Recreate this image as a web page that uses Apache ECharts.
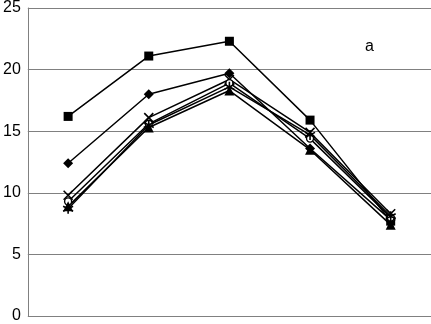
<!DOCTYPE html>
<html>
<head>
<meta charset="utf-8">
<script src="https://cdn.jsdelivr.net/npm/echarts@6/dist/echarts.min.js"></script>
<style>
  html, body { margin: 0; padding: 0; background: #fff; }
  #chart { width: 431px; height: 324px; }
</style>
</head>
<body>
<div id="chart"></div>
<script>
// categories (no labels shown on x axis)
var categories = ['1', '2', '3', '4', '5'];
var yTicks = [0, 5, 10, 15, 20, 25];

// series values
var squareVals   = [16.2, 21.1, 22.3, 15.9, 7.7];
var diamondVals  = [12.4, 18.0, 19.7, 13.6, 7.8];
var crossVals    = [9.8, 16.1, 19.2, 14.9, 8.3];
var circleVals   = [9.3, 15.6, 18.9, 14.4, 8.0];
var starVals     = [8.7, 15.5, 18.6, 14.7, 8.1];
var triangleVals = [8.9, 15.3, 18.3, 13.5, 7.4];

var crossPath = 'path://M0,0L10,10M10,0L0,10';
var starPath = 'path://M5,0L5,10M0,2.5L10,7.5M0,7.5L10,2.5';

function makeSeries(name, data, symbol, size, hollow) {
  return {
    name: name,
    type: 'line',
    data: data,
    symbol: symbol,
    symbolSize: size,
    showSymbol: true,
    animation: false,
    lineStyle: { color: '#000', width: 1.5 },
    itemStyle: {
      color: hollow ? '#fff' : '#000',
      borderColor: '#000',
      borderWidth: hollow ? 1.4 : (symbol.indexOf('path') === 0 ? 1.6 : 0)
    },
    z: 3
  }
}

var chart = echarts.init(document.getElementById('chart'));
chart.setOption({
  animation: false,
  grid: { left: 25, right: 0, top: 8, bottom: 6, containLabel: false },
  xAxis: {
    type: 'category',
    data: categories,
    boundaryGap: true,
    axisLine: { show: false },
    axisTick: { show: false },
    axisLabel: { show: false },
    splitLine: { show: false }
  },
  yAxis: {
    type: 'value',
    min: yTicks[0],
    max: yTicks[yTicks.length - 1],
    interval: 5,
    axisLine: { show: true, lineStyle: { color: '#808080', width: 1 } },
    axisTick: { show: false },
    axisLabel: {
      color: '#000',
      fontSize: 16,
      fontFamily: 'Liberation Sans, Arial, sans-serif',
      margin: 7
    },
    splitLine: { show: true, lineStyle: { color: '#808080', width: 1 } }
  },
  graphic: [{
    type: 'text',
    left: 365,
    top: 39,
    style: { text: 'a', fontSize: 16, fontFamily: 'Liberation Sans, Arial, sans-serif', fill: '#000' }
  }],
  series: [
    makeSeries('square', squareVals, 'rect', 9, false),
    makeSeries('diamond', diamondVals, 'diamond', 10, false),
    makeSeries('cross', crossVals, crossPath, 9, false),
    makeSeries('circle', circleVals, 'circle', 7, true),
    makeSeries('star', starVals, starPath, 10, false),
    makeSeries('triangle', triangleVals, 'triangle', 10, false)
  ]
});
</script>
</body>
</html>
